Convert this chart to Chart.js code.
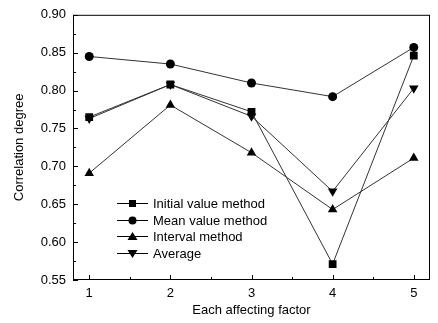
<!DOCTYPE html>
<html>
<head>
<meta charset="utf-8">
<script src="https://cdn.jsdelivr.net/npm/chart.js@4/dist/chart.umd.min.js"></script>
<style>
  html, body { margin: 0; padding: 0; background: #fff; }
  #wrap { width: 438px; height: 323px; }
</style>
</head>
<body>
<div id="wrap"><canvas id="chart" width="438" height="323"></canvas></div>
<script>
// factors on the x axis
var factors = [1, 2, 3, 4, 5];

// correlation degree per method
var initialValue = [0.765, 0.808, 0.772, 0.571, 0.846];
var meanValue = [0.845, 0.835, 0.810, 0.792, 0.857];
var intervalMethod = [0.691, 0.781, 0.718, 0.643, 0.711];
var average = [0.763, 0.808, 0.766, 0.667, 0.803];

var seriesLabels = ["Initial value method", "Mean value method", "Interval method", "Average"];
var yTicks = [0.55, 0.60, 0.65, 0.70, 0.75, 0.80, 0.85, 0.90];

var font = "Liberation Sans";
var fontSize = 13;
Chart.defaults.font.family = font;
Chart.defaults.font.size = fontSize;
Chart.defaults.color = "#000";

function toPoints(values) {
    return factors.map((f, i) => ({ x: f, y: values[i] }));
}

function makeSet(label, values, style, radius, rotation) {
    return {
        label: label,
        data: toPoints(values),
        borderColor: "#333",
        borderWidth: 1,
        pointStyle: style,
        pointRadius: radius,
        pointRotation: rotation || 0,
        pointBackgroundColor: "#000",
        pointBorderColor: "#000",
        pointBorderWidth: 0,
        tension: 0
    };
}

// small filled marker for the legend
function legendMarker(ctx, style, rotation, x, y) {
    ctx.beginPath();
    if (style === "rect") {
        ctx.rect(x - 3.5, y - 3.5, 7, 7);
    } else if (style === "circle") {
        ctx.arc(x, y, 4, 0, Math.PI * 2);
    } else if (rotation === 180) {
        ctx.moveTo(x - 5, y - 3.5);
        ctx.lineTo(x + 5, y - 3.5);
        ctx.lineTo(x, y + 4.5);
    } else {
        ctx.moveTo(x - 5, y + 3.5);
        ctx.lineTo(x + 5, y + 3.5);
        ctx.lineTo(x, y - 4.5);
    }
    ctx.closePath();
    ctx.fillStyle = "#000";
    ctx.fill();
}

// inward tick marks, top/right box and the legend
var framePlugin = {
    id: "frame",
    afterDraw(chart) {
        let ctx = chart.ctx;
        let a = chart.chartArea;
        let xs = chart.scales.x;
        let ys = chart.scales.y;
        ctx.save();
        ctx.strokeStyle = "#000";
        ctx.lineWidth = 1;
        ctx.strokeRect(a.left + 0.5, a.top + 0.5, a.right - a.left - 1, a.bottom - a.top - 1);

        ctx.beginPath();
        for (let v = 1; v <= 5; v += 0.5) {
            let px = Math.round(xs.getPixelForValue(v)) + 0.5;
            let len = Number.isInteger(v) ? 5 : 3;
            ctx.moveTo(px, a.bottom);
            ctx.lineTo(px, a.bottom - len);
        }
        for (let v = 0.55; v <= 0.9001; v += 0.025) {
            let py = Math.round(ys.getPixelForValue(v)) + 0.5;
            let major = Math.abs(Math.round(v / 0.05) * 0.05 - v) < 0.001;
            ctx.moveTo(a.left, py);
            ctx.lineTo(a.left + (major ? 5 : 3), py);
        }
        ctx.stroke();

        // legend
        let lx = 117, ly = 203, step = 16.7;
        chart.data.datasets.forEach((ds, i) => {
            let y = Math.round(ly + i * step);
            ctx.strokeStyle = "#000";
            ctx.beginPath();
            ctx.moveTo(lx, y + 0.5);
            ctx.lineTo(lx + 31, y + 0.5);
            ctx.stroke();
            legendMarker(ctx, ds.pointStyle, ds.pointRotation, lx + 15.5, y + 0.5);
            ctx.font = fontSize + "px " + font;
            ctx.fillStyle = "#000";
            ctx.textBaseline = "middle";
            ctx.textAlign = "left";
            ctx.fillText(ds.label, lx + 36, y + 1);
        });
        ctx.restore();
    }
};

new Chart(document.getElementById("chart"), {
    type: "line",
    data: {
        datasets: [
            makeSet(seriesLabels[0], initialValue, "rect", 5.5),
            makeSet(seriesLabels[1], meanValue, "circle", 4.5),
            makeSet(seriesLabels[2], intervalMethod, "triangle", 5.5),
            makeSet(seriesLabels[3], average, "triangle", 5.5, 180)
        ]
    },
    options: {
        responsive: false,
        animation: false,
        layout: { padding: { top: 13, right: 8, left: 0, bottom: 0 } },
        plugins: {
            legend: { display: false },
            tooltip: { enabled: false }
        },
        scales: {
            x: {
                type: "linear",
                min: 0.8,
                max: 5.2,
                afterBuildTicks: (s) => { s.ticks = factors.map(v => ({ value: v })); },
                afterFit: (s) => { s.height = 43; },
                grid: { display: false, drawTicks: false },
                border: { display: false },
                ticks: { padding: 6, color: "#000" },
                title: {
                    display: true,
                    text: "Each affecting factor",
                    color: "#000",
                    padding: { top: 4, bottom: 5 }
                }
            },
            y: {
                min: 0.55,
                max: 0.90,
                afterBuildTicks: (s) => { s.ticks = yTicks.map(v => ({ value: v })); },
                afterFit: (s) => { s.width = 73; },
                grid: { display: false, drawTicks: false },
                border: { display: false },
                ticks: {
                    padding: 7,
                    color: "#000",
                    callback: (v) => v.toFixed(2)
                },
                title: {
                    display: true,
                    text: "Correlation degree",
                    color: "#000",
                    padding: { top: 12, bottom: 4 }
                }
            }
        }
    },
    plugins: [framePlugin]
});
</script>
</body>
</html>
